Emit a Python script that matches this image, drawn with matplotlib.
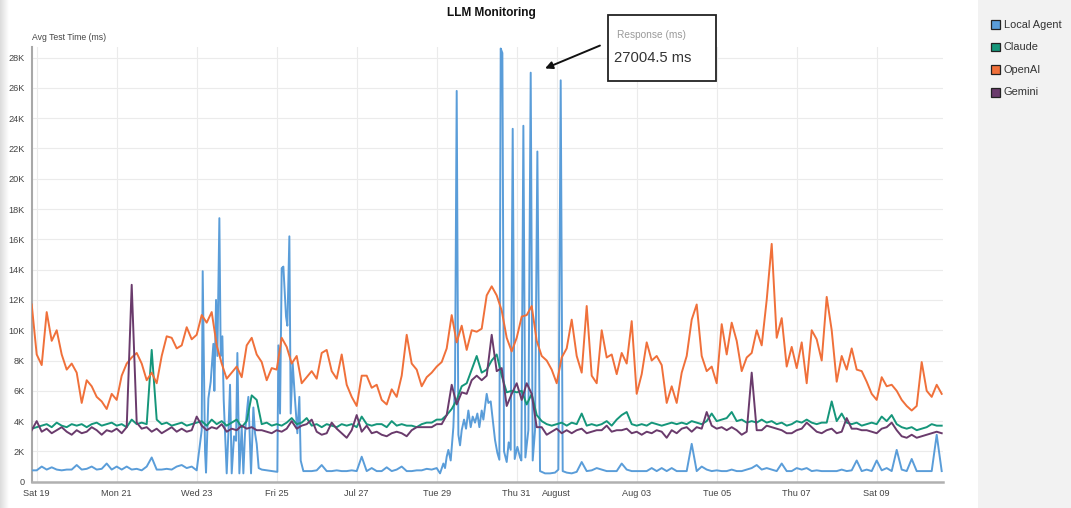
import matplotlib
matplotlib.use('Agg')
import matplotlib.pyplot as plt
import numpy as np
import pandas as pd
from matplotlib.patches import Rectangle

plt.rcParams['font.family'] = ['Liberation Sans', 'DejaVu Sans']

# ---------------- data (values in thousands of ms) ----------------
series_names = ['Local Agent', 'Claude', 'OpenAI', 'Gemini']
series_colors = ['#5a9dd9', '#15967a', '#f0703a', '#6a3b6c']

# regular 3-hour sampling starting 2025-07-18 21:00
openai_k = [
    11.7, 8.4, 7.7, 11.2, 9.3, 10.0, 8.4, 7.4, 7.8, 7.2,
    5.2, 6.7, 6.3, 5.6, 5.3, 4.8, 5.8, 5.4, 7.0, 7.8,
    8.2, 8.5, 7.8, 6.7, 7.2, 6.5, 8.3, 9.6, 9.5, 8.8,
    9.0, 10.2, 9.4, 9.7, 11.0, 10.5, 11.2, 9.0, 7.8, 6.8,
    7.2, 7.6, 6.9, 9.0, 9.5, 8.4, 7.9, 6.7, 7.5, 7.4,
    9.5, 8.9, 7.8, 8.3, 6.5, 6.9, 7.3, 6.8, 8.5, 8.7,
    7.3, 6.8, 8.4, 6.4, 5.6, 5.0, 7.0, 7.0, 6.2, 6.4,
    5.4, 5.1, 6.1, 5.6, 7.0, 9.7, 7.8, 7.4, 6.3, 6.9,
    7.2, 7.6, 7.9, 8.8, 11.0, 9.2, 10.3, 8.7, 10.0, 9.9,
    10.1, 12.3, 12.9, 12.3, 11.3, 9.5, 8.6, 9.5, 10.9, 11.0,
    11.6, 9.3, 8.3, 8.0, 7.4, 6.5, 8.2, 8.8, 10.7, 8.3,
    7.2, 11.6, 7.0, 6.5, 10.0, 8.2, 8.4, 7.1, 8.5, 7.8,
    10.6, 5.8, 7.1, 9.2, 8.0, 8.3, 7.7, 5.2, 6.3, 5.2,
    7.2, 8.3, 10.7, 11.7, 8.3, 7.3, 7.6, 6.5, 10.4, 8.4,
    10.5, 9.3, 7.3, 8.2, 8.5, 10.0, 9.0, 12.0, 15.7, 9.5,
    10.8, 7.6, 8.9, 7.5, 9.2, 6.5, 10.0, 9.4, 8.0, 12.2,
    10.0, 6.6, 8.3, 7.4, 8.8, 7.4, 7.3, 6.6, 5.8, 5.4,
    6.9, 6.3, 6.4, 6.0, 5.4, 5.0, 4.7, 5.0, 7.9, 6.0,
    5.6, 6.4, 5.8,
]

claude_k = [
    3.5, 3.6, 3.7, 3.8, 3.6, 3.9, 3.7, 3.6, 3.8, 3.7,
    3.8, 3.6, 3.8, 3.9, 3.7, 3.8, 3.9, 3.7, 3.8, 3.6,
    4.1, 3.8, 3.9, 3.8, 8.7, 4.1, 3.8, 3.9, 3.7, 3.8,
    3.9, 3.7, 3.8, 3.9, 4.0, 3.7, 4.1, 3.8, 4.0, 3.7,
    3.9, 4.1, 3.6, 4.0, 5.7, 5.4, 3.8, 3.9, 3.7, 3.8,
    3.7, 3.9, 4.2, 3.8, 3.9, 4.2, 3.7, 3.8, 3.6, 3.8,
    3.7, 3.6, 3.8, 3.7, 3.8, 3.6, 4.3, 3.8, 3.7, 3.8,
    3.8, 3.6, 4.0, 3.7, 3.8, 3.7, 3.7, 3.6, 3.8, 3.9,
    3.9, 4.1, 4.1, 4.4, 4.8, 5.4, 6.3, 6.5, 7.4, 8.3,
    7.2, 7.4, 8.0, 8.4, 7.0, 5.9, 6.0, 5.9, 6.0, 5.1,
    5.8, 4.4, 4.0, 3.8, 3.7, 3.8, 3.9, 3.7, 3.9, 3.8,
    4.5, 3.7, 3.8, 3.7, 3.8, 4.0, 3.7, 4.1, 4.4, 4.6,
    3.8, 3.7, 3.8, 3.7, 3.9, 3.8, 3.7, 3.8, 3.9, 3.8,
    3.9, 3.8, 4.0, 3.9, 3.8, 4.0, 4.5, 4.0, 4.1, 4.2,
    4.6, 4.0, 4.1, 3.9, 4.0, 3.9, 4.1, 3.9, 4.0, 3.8,
    3.9, 3.7, 3.8, 4.0, 3.9, 4.1, 3.9, 3.8, 3.9, 3.9,
    5.3, 4.0, 4.5, 3.9, 3.8, 3.9, 3.7, 3.8, 3.9, 3.8,
    4.3, 4.0, 4.4, 3.8, 3.6, 3.5, 3.6, 3.4, 3.5, 3.6,
    3.8, 3.7, 3.7,
]

gemini_k = [
    3.4, 4.0, 3.3, 3.5, 3.2, 3.4, 3.6, 3.3, 3.1, 3.4,
    3.2, 3.3, 3.6, 3.4, 3.1, 3.4, 3.3, 3.5, 3.2, 3.6,
    13.0, 3.9, 3.5, 3.6, 3.3, 3.5, 3.2, 3.4, 3.6, 3.3,
    3.5, 3.3, 3.4, 4.3, 3.7, 3.4, 3.6, 3.5, 3.8, 3.3,
    3.5, 3.4, 3.7, 3.5, 3.6, 3.4, 3.4, 3.3, 3.2, 3.4,
    3.3, 3.5, 4.0, 3.5, 3.7, 3.8, 4.1, 3.3, 3.1, 3.2,
    3.9, 3.5, 3.2, 2.9, 3.4, 4.4, 3.3, 3.7, 3.2, 3.3,
    3.1, 3.0, 3.2, 3.3, 3.2, 3.0, 3.4, 3.6, 3.6, 3.6,
    3.6, 3.8, 3.8, 4.4, 6.4, 5.1, 5.9, 5.8, 6.7, 7.0,
    6.7, 7.0, 9.7, 7.3, 7.5, 5.0, 5.8, 6.5, 5.4, 6.5,
    5.8, 3.6, 3.6, 3.1, 3.3, 3.5, 3.2, 3.4, 3.2, 3.4,
    3.5, 3.2, 3.3, 3.4, 3.4, 3.7, 3.3, 3.4, 3.4, 3.5,
    3.2, 3.3, 3.1, 3.3, 3.2, 3.4, 3.3, 2.9, 3.4, 3.2,
    3.5, 3.6, 3.3, 3.6, 3.5, 4.6, 3.7, 3.5, 3.6, 3.4,
    3.6, 3.4, 3.1, 3.3, 7.2, 3.4, 3.4, 3.7, 3.6, 3.5,
    3.4, 3.2, 3.2, 3.4, 3.5, 3.9, 3.6, 3.3, 3.2, 3.4,
    3.5, 3.2, 3.3, 4.2, 3.5, 3.5, 3.4, 3.4, 3.3, 3.2,
    3.5, 3.6, 3.9, 3.4, 3.0, 2.9, 3.1, 2.9, 3.0, 3.1,
    3.2, 3.3, 3.2,
]

# Local Agent: hours since 2025-07-19 00:00 (denser sampling around bursts)
agent_hours = (list(range(-3, 97, 3)) +
    [99.0, 99.6, 101.0, 101.6, 103.0, 104.4, 106.0, 106.6, 107.6, 108.4,
     109.6, 110.4, 111.4, 112.2, 113.0, 114.0, 115.0, 116.0, 117.0, 118.4,
     119.6, 120.4, 121.6, 123.0, 124.0, 125.0, 126.0, 127.0, 127.8, 128.6,
     130.0, 131.0, 132.0, 133.2, 135.0, 138.0, 141.0, 144.4, 145.0, 146.0,
     147.0, 148.0, 149.6, 150.4, 151.6, 152.4, 153.6, 155.0, 156.4, 157.6,
     158.4, 160.0] +
    list(range(162, 241, 3)) +
    [242.0, 244.0, 245.0, 246.0, 247.0, 248.4, 250.0, 251.0, 252.0, 253.0,
     254.0, 255.0, 256.4, 257.6, 259.0, 260.4, 261.6, 263.0, 264.4, 265.6,
     267.0, 268.0, 270.0, 271.0, 272.4, 273.6, 275.0, 276.4, 277.6, 278.4,
     279.4, 280.4, 282.0, 283.2, 284.4, 285.6, 286.8, 288.4, 290.0, 290.8,
     292.0, 293.2, 295.0, 296.4, 297.6, 299.0, 300.4, 302.0, 305.0, 308.0,
     311.0, 313.0, 314.4, 315.6, 318.0, 321.0] +
    list(range(324, 544, 3)))

agent_k = [
    # Jul 19 - Jul 23 morning
    0.75, 0.75, 1.0, 0.8, 0.95, 0.8, 0.75, 0.8, 0.8, 1.1,
    0.8, 0.85, 1.0, 0.8, 0.85, 1.2, 0.8, 1.0, 0.8, 1.0,
    0.8, 0.85, 0.75, 1.0, 1.6, 0.8, 0.8, 0.85, 0.8, 1.0,
    1.1, 0.9, 1.0, 0.75,
    # Jul 23 - Jul 25 bursts
    3.4, 13.9, 2.0, 0.6, 5.5, 6.6, 9.1, 6.0, 12.0, 8.3,
    17.4, 8.3, 9.6, 5.4, 3.2, 0.55, 3.2, 6.4, 0.55, 3.0,
    2.7, 8.5, 0.55, 3.6, 0.55, 3.2, 4.5, 5.6, 3.0, 0.55,
    4.9, 3.2, 2.5, 0.9, 0.8, 0.75, 0.7, 0.65, 9.0, 4.5,
    14.1, 14.2, 10.9, 10.3, 16.2, 4.5, 7.8, 5.4, 3.2, 5.6,
    1.4, 0.7,
    # Jul 25 - Jul 29 quiet
    0.7, 0.7, 0.75, 1.1, 0.7, 0.7, 0.75, 0.7, 0.7, 0.75,
    0.7, 1.65, 0.7, 0.9, 0.7, 0.7, 0.95, 0.7, 0.8, 1.0,
    0.7, 0.7, 0.75, 0.75, 0.85, 0.8, 0.9,
    # Jul 29 - Aug 1 bursts
    0.55, 1.2, 0.9, 1.65, 2.1, 1.4, 3.6, 6.7, 25.8, 3.1,
    2.4, 3.4, 4.1, 3.5, 4.7, 3.6, 4.3, 3.9, 4.5, 3.6,
    4.7, 4.1, 5.8, 5.2, 5.3, 4.1, 2.75, 1.9, 1.45, 28.6,
    28.3, 2.0, 1.3, 2.6, 2.1, 23.3, 1.5, 2.3, 1.6, 1.4,
    23.5, 1.6, 3.4, 27.0045, 1.4, 3.4, 21.8, 0.7, 0.55, 0.55,
    0.6, 0.8, 26.5, 0.7, 0.6, 0.55,
    # Aug 1 - Aug 10
    0.65, 1.3, 0.7, 0.75, 0.9, 0.8, 0.7, 0.7, 0.7, 1.2, 0.8,
    0.7, 0.7, 0.7, 0.7, 0.9, 0.7, 0.9, 0.7, 0.9, 0.7,
    0.7, 0.7, 2.5, 0.7, 1.0, 0.8, 0.7, 0.75, 0.7, 0.7,
    0.8, 0.7, 0.7, 0.8, 0.9, 1.1, 0.8, 0.9, 0.8, 0.7,
    1.2, 0.7, 0.7, 0.9, 0.8, 0.9, 0.7, 0.75, 0.7, 0.7,
    0.7, 0.7, 0.8, 0.7, 0.75, 1.4, 0.7, 0.8, 0.7, 1.4,
    0.75, 0.9, 0.7, 2.1, 0.8, 0.7, 1.5, 0.7, 0.7, 0.7,
    0.7, 3.1, 0.7,
]

tick_dates = ['2025-07-19', '2025-07-21', '2025-07-23', '2025-07-25', '2025-07-27',
              '2025-07-29', '2025-07-31', '2025-08-01', '2025-08-03', '2025-08-05',
              '2025-08-07', '2025-08-09']
tick_labels = ['Sat 19', 'Mon 21', 'Wed 23', 'Fri 25', 'Jul 27', 'Tue 29', 'Thu 31',
               'August', 'Aug 03', 'Tue 05', 'Thu 07', 'Sat 09']
y_ticks = list(range(0, 28001, 2000))
y_tick_labels = ['0' if v == 0 else f'{v // 1000}K' for v in y_ticks]

annot_title = 'Response (ms)'
annot_value = '27004.5 ms'

# ---------------- drawing ----------------
W, H = 1071, 508
fig = plt.figure(figsize=(W / 100, H / 100), dpi=100)
fig.patch.set_facecolor('white')

def fx(px):
    return px / W

def fy(py):
    return 1 - py / H

# left-edge shadow
sh = fig.add_axes([0, 0, 9 / W, 1])
grad = np.linspace(0.86, 1.0, 50).reshape(1, -1)
sh.imshow(np.dstack([grad, grad, grad]), aspect='auto', extent=[0, 1, 0, 1])
sh.axis('off')

# right legend sidebar
fig.patches.append(Rectangle((fx(978), 0), 1 - fx(978), 1, transform=fig.transFigure,
                             facecolor='#f2f2f2', edgecolor='none', zorder=0))

ax = fig.add_axes([fx(31.7), fy(481.7), fx(942.7) - fx(31.7), fy(47) - fy(481.7)])

base = pd.Timestamp('2025-07-19 00:00')
grid_times = pd.Timestamp('2025-07-18 21:00') + pd.to_timedelta(np.arange(len(openai_k)) * 3, unit='h')
agent_times = base + pd.to_timedelta(np.array(agent_hours, dtype=float), unit='h')

data = {
    'Local Agent': (agent_times, np.array(agent_k) * 1000),
    'Claude': (grid_times, np.array(claude_k) * 1000),
    'OpenAI': (grid_times, np.array(openai_k) * 1000),
    'Gemini': (grid_times, np.array(gemini_k) * 1000),
}
for name, col in zip(series_names, series_colors):
    t, v = data[name]
    ax.plot(t, v, color=col, lw=1.4, solid_joinstyle='round', zorder=3)

ax.set_xlim(base - pd.Timedelta(hours=3), base + pd.Timedelta(hours=543.6))
ax.set_ylim(0, 28700)

ax.set_xticks(pd.to_datetime(tick_dates))
ax.set_xticklabels(tick_labels)
ax.set_yticks(y_ticks)
ax.set_yticklabels(y_tick_labels)
ax.tick_params(axis='both', length=0, labelsize=6.6, colors='#444444')
ax.tick_params(axis='x', pad=5.5)
ax.tick_params(axis='y', pad=5)
ax.grid(True, color='#ebebeb', lw=0.8, zorder=0)
ax.set_axisbelow(True)
for s in ['top', 'right']:
    ax.spines[s].set_visible(False)
ax.spines['left'].set_color('#a8a8a8')
ax.spines['left'].set_linewidth(1.5)
ax.spines['bottom'].set_color('#b0b0b0')
ax.spines['bottom'].set_linewidth(1.8)

fig.text(fx(32), fy(37), 'Avg Test Time (ms)', fontsize=6.2, color='#444444',
         ha='left', va='center')
fig.text(fx(491), fy(13), 'LLM Monitoring', fontsize=8.6, fontweight='bold',
         color='#111111', ha='center', va='center')

# annotation box
fig.patches.append(Rectangle((fx(608.3), fy(80.7)), fx(715.7) - fx(608.3), fy(15) - fy(80.7),
                             transform=fig.transFigure, facecolor='white',
                             edgecolor='#222222', lw=1.3, zorder=5))
fig.text(fx(617), fy(35), annot_title, fontsize=7.3, color='#9a9a9a',
         ha='left', va='center', zorder=6)
fig.text(fx(614), fy(57.5), annot_value, fontsize=10.6, color='#333333',
         ha='left', va='center', zorder=6)
fig.add_artist(matplotlib.patches.FancyArrowPatch(
    (fx(602.5), fy(44.5)), (fx(542.5), fy(69.5)), transform=fig.transFigure,
    arrowstyle='-|>', mutation_scale=11, color='#111111', lw=1.4, zorder=6))

# legend
for k, (name, col) in enumerate(zip(series_names, series_colors)):
    cy = 24.5 + 22.6 * k
    fig.patches.append(Rectangle((fx(991), fy(cy + 4.3)), fx(999.8) - fx(991), fy(cy - 4.3) - fy(cy + 4.3),
                                 transform=fig.transFigure, facecolor=col,
                                 edgecolor='#222222', lw=0.9, zorder=5))
    fig.text(fx(1004), fy(cy), name, fontsize=7.9, color='#333333',
             ha='left', va='center', zorder=6)

fig.savefig('out.png', dpi=100, facecolor='white')
